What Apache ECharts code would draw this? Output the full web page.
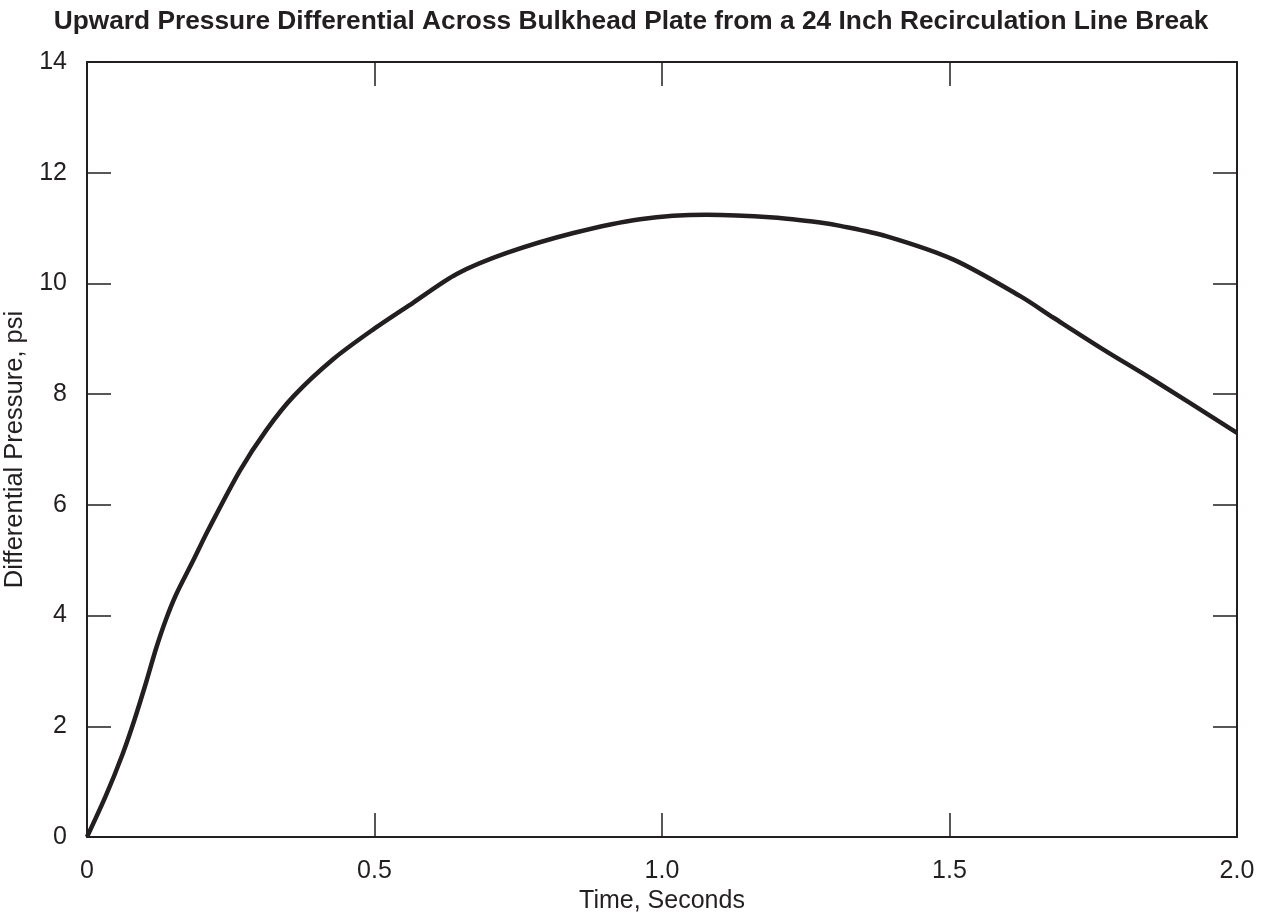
<!DOCTYPE html>
<html>
<head>
<meta charset="utf-8">
<script src="https://cdn.jsdelivr.net/npm/echarts@6/dist/echarts.min.js"></script>
<style>
  html, body { margin: 0; padding: 0; background: #fff; }
  #main { width: 1262px; height: 922px; }
</style>
</head>
<body>
<div id="main"></div>
<script>
// time (s) and differential pressure (psi)
var timeSec = [0, 0.033, 0.062, 0.082, 0.103, 0.120, 0.137, 0.155, 0.184, 0.211,
    0.266, 0.3125, 0.359, 0.428, 0.498, 0.567, 0.643, 0.730, 0.846,
    0.962, 1.078, 1.194, 1.275, 1.310, 1.391, 1.507, 1.623, 1.681, 1.767,
    1.854, 2.0]
var pressurePsi = [0, 0.75, 1.50, 2.10, 2.80, 3.40, 3.92, 4.38, 4.98, 5.55,
    6.62, 7.36, 7.96, 8.63, 9.17, 9.65, 10.17, 10.55, 10.91,
    11.16, 11.24, 11.19, 11.10, 11.04, 10.85, 10.43, 9.77, 9.38, 8.81,
    8.26, 7.30]

var ink = '#231f20'
var font = 'Liberation Sans, Arial, sans-serif'

var curve = []
for (var i = 0; i < timeSec.length; i++) {
    curve.push([timeSec[i], pressurePsi[i]])
}

var myChart = echarts.init(document.getElementById('main'))

// frame line + inward ticks, used on all four sides
var lineStyle = {show: true, onZero: false, lineStyle: {color: ink, width: 2}}
var tickStyle = {show: true, inside: true, length: 24, lineStyle: {color: ink, width: 1.5}}

var option = {
    animation: false,
    backgroundColor: '#fff',
    title: {
        text: 'Upward Pressure Differential Across Bulkhead Plate from a 24 Inch Recirculation Line Break',
        left: 'center',
        top: 4,
        textStyle: {color: ink, fontFamily: font, fontSize: 26.3, fontWeight: 'bold'}
    },
    grid: {left: 87, right: 25, top: 62, bottom: 85, outerBoundsMode: 'none', containLabel: false},
    xAxis: [
        {
            type: 'value',
            position: 'bottom',
            min: 0, max: 2, interval: 0.5,
            name: 'Time, Seconds',
            nameLocation: 'middle',
            nameGap: 50,
            nameTextStyle: {color: ink, fontFamily: font, fontSize: 25},
            axisLine: lineStyle,
            axisTick: tickStyle,
            splitLine: {show: false},
            axisLabel: {
                color: ink, fontFamily: font, fontSize: 25, margin: 22,
                formatter: function (v) {
                    return v === 0 ? '0' : v.toFixed(1)
                }
            }
        },
        {
            type: 'value',
            position: 'top',
            min: 0, max: 2, interval: 0.5,
            axisLine: lineStyle,
            axisTick: tickStyle,
            axisLabel: {show: false},
            splitLine: {show: false}
        }
    ],
    yAxis: [
        {
            type: 'value',
            position: 'left',
            min: 0, max: 14, interval: 2,
            name: 'Differential Pressure, psi',
            nameLocation: 'middle',
            nameGap: 58,
            nameTextStyle: {color: ink, fontFamily: font, fontSize: 25.5},
            axisLine: lineStyle,
            axisTick: tickStyle,
            splitLine: {show: false},
            axisLabel: {color: ink, fontFamily: font, fontSize: 25, margin: 20}
        },
        {
            type: 'value',
            position: 'right',
            min: 0, max: 14, interval: 2,
            axisLine: lineStyle,
            axisTick: tickStyle,
            axisLabel: {show: false},
            splitLine: {show: false}
        }
    ],
    series: [
        {
            type: 'line',
            data: curve,
            smooth: 0.3,
            showSymbol: false,
            symbol: 'none',
            lineStyle: {color: ink, width: 4.5}
        }
    ]
}

myChart.setOption(option)
</script>
</body>
</html>
